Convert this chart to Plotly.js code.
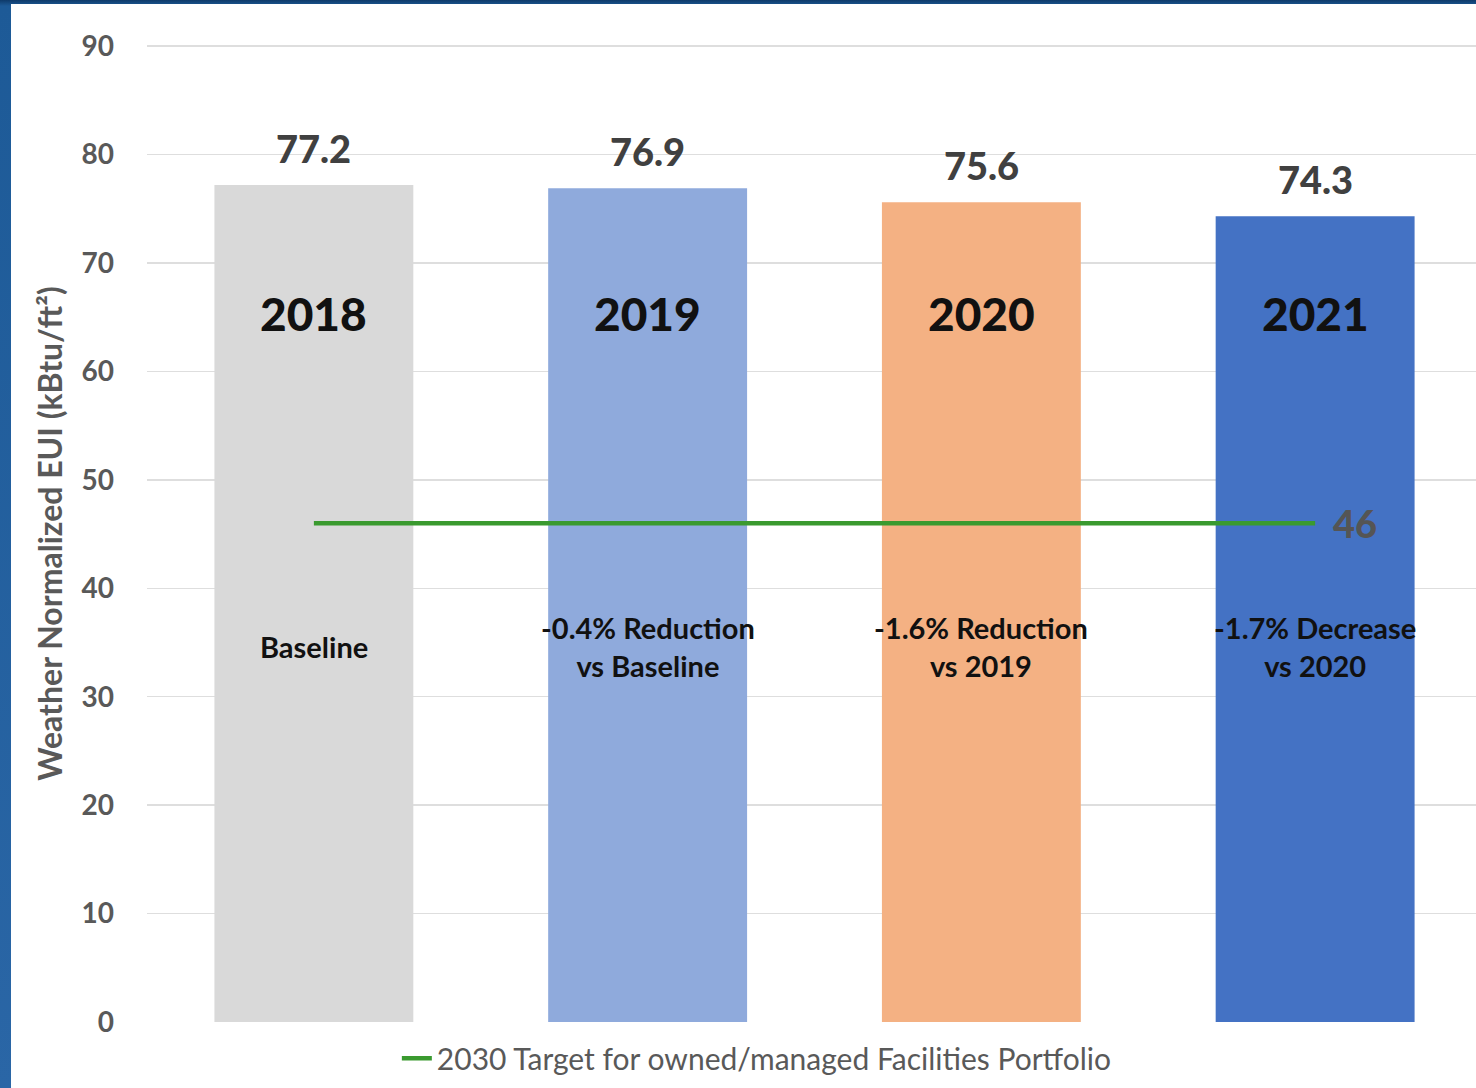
<!DOCTYPE html>
<html>
<head>
<meta charset="utf-8">
<script src="https://cdn.plot.ly/plotly-3.0.1.min.js"></script>
<style>
  html, body { margin: 0; padding: 0; }
  body { width: 1476px; height: 1088px; overflow: hidden;
         background: linear-gradient(180deg, #0e3a6a 0px, #1d5a97 6px, #2a66a6 100%); }
  #chart { position: absolute; left: 11px; top: 4px; width: 1465px; height: 1084px; }
</style>
</head>
<body>
<div id="chart"></div>
<script>
// ---- data ----
const years = ["2018", "2019", "2020", "2021"];
const eui = [77.2, 76.9, 75.6, 74.3];
const valueLabels = ["77.2", "76.9", "75.6", "74.3"];
const changeLabels = ["Baseline", "-0.4% Reduction<br>vs Baseline", "-1.6% Reduction<br>vs 2019", "-1.7% Decrease<br>vs 2020"];
const target = [46, 46, 46, 46];
const targetName = "2030 Target for owned/managed Facilities Portfolio";
const barColors = ["#d9d9d9", "#8faadc", "#f4b183", "#4472c4"];
const yTicks = [0, 10, 20, 30, 40, 50, 60, 70, 80, 90];

const FONT = "Lato, 'Noto Sans', sans-serif";

const traces = [
  {
    type: "bar",
    x: years,
    y: eui,
    width: 0.596,
    marker: { color: barColors },
    showlegend: false,
    hoverinfo: "skip"
  },
  {
    type: "scatter",
    mode: "lines",
    x: years,
    y: target,
    name: targetName,
    line: { color: "#3a9a2f", width: 4.5 },
    hoverinfo: "skip"
  }
];

const annotations = [];
years.forEach((yr, i) => {
  annotations.push({
    x: i, y: eui[i], xref: "x", yref: "y",
    text: valueLabels[i], showarrow: false,
    yanchor: "bottom", yshift: 12,
    font: { family: FONT, size: 38, color: "#404040", weight: 900 }
  });
  annotations.push({
    x: i, y: 65.3, xref: "x", yref: "y",
    text: yr, showarrow: false,
    yanchor: "middle",
    font: { family: FONT, size: 46, color: "#111111", weight: 900 }
  });
  annotations.push({
    x: i, y: 34.6, xref: "x", yref: "y",
    text: changeLabels[i], showarrow: false,
    yanchor: "middle",
    font: { family: FONT, size: 29, color: "#111111", weight: "bold" }
  });
});
annotations.push({
  x: years.length - 1, y: target[target.length - 1], xref: "x", yref: "y",
  text: String(target[target.length - 1]), showarrow: false,
  xanchor: "left", yanchor: "middle", xshift: 16,
  font: { family: FONT, size: 38, color: "#555555", weight: 900 }
});

const layout = {
  width: 1465,
  height: 1084,
  margin: { l: 136, r: 0, t: 41, b: 66 },
  paper_bgcolor: "#ffffff",
  plot_bgcolor: "#ffffff",
  font: { family: FONT },
  xaxis: {
    type: "category",
    range: [-0.5, 3.482],
    showticklabels: false,
    showgrid: false,
    zeroline: false,
    showline: false,
    ticks: ""
  },
  yaxis: {
    range: [0, 90.1],
    tickvals: yTicks,
    ticktext: yTicks.map(String),
    showgrid: true,
    gridcolor: "#dedede",
    gridwidth: 1.5,
    zeroline: false,
    showline: false,
    ticks: "",
    ticklabelstandoff: 32,
    tickfont: { family: FONT, size: 28, color: "#595959", weight: "bold" },
    title: {
      text: "Weather Normalized EUI (kBtu/ft²)",
      standoff: 9,
      font: { family: FONT, size: 32, color: "#595959", weight: "bold" }
    }
  },
  showlegend: true,
  legend: {
    orientation: "h",
    x: 0.188, xanchor: "left",
    y: -0.037, yanchor: "middle",
    bgcolor: "rgba(0,0,0,0)",
    font: { family: FONT, size: 30, color: "#595959" }
  },
  annotations: annotations,
  hovermode: false
};

Plotly.newPlot("chart", traces, layout, { displayModeBar: false, staticPlot: true });
</script>
</body>
</html>
